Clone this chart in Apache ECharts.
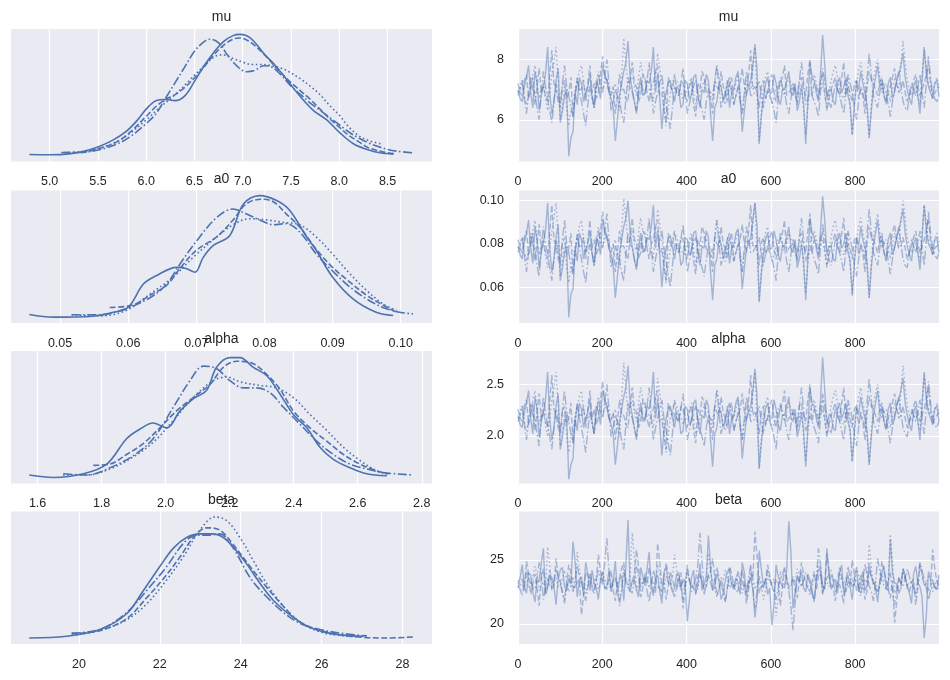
<!DOCTYPE html>
<html>
<head>
<meta charset="utf-8">
<script src="https://cdn.jsdelivr.net/npm/echarts@6/dist/echarts.min.js"></script>
<style>
html,body{margin:0;padding:0;background:#fff;}
#chart{width:950px;height:680px;}
</style>
</head>
<body>
<div id="chart"></div>
<script>
// ---------------- DATA ----------------
const paramNames = ['mu', 'a0', 'alpha', 'beta'];

// KDE curves (x, relative density) per chain
const muKde0 = [[4.79,0.003],[5.0,0.001],[5.2,0.008],[5.35,0.03],[5.5,0.066],[5.65,0.12],[5.8,0.2],[5.9,0.28],[6.0,0.38],[6.1,0.45],[6.2,0.46],[6.3,0.45],[6.4,0.49],[6.5,0.61],[6.6,0.74],[6.7,0.85],[6.8,0.94],[6.9,0.99],[6.97,1.0],[7.08,0.97],[7.22,0.84],[7.35,0.73],[7.49,0.59],[7.6,0.48],[7.73,0.37],[7.87,0.29],[8.01,0.18],[8.15,0.09],[8.29,0.044],[8.42,0.017],[8.56,0.006]];
const muKde1 = [[5.15,0.02],[5.3,0.02],[5.5,0.05],[5.7,0.11],[5.85,0.2],[6.0,0.32],[6.1,0.4],[6.2,0.46],[6.3,0.5],[6.4,0.56],[6.5,0.64],[6.6,0.73],[6.7,0.83],[6.8,0.91],[6.9,0.96],[6.97,0.97],[7.05,0.95],[7.15,0.89],[7.25,0.81],[7.35,0.72],[7.5,0.6],[7.6,0.53],[7.7,0.46],[7.8,0.38],[7.9,0.3],[8.0,0.23],[8.1,0.16],[8.2,0.11],[8.3,0.06],[8.45,0.025],[8.58,0.01]];
const muKde2 = [[5.2,0.02],[5.35,0.025],[5.5,0.05],[5.7,0.11],[5.85,0.19],[6.0,0.29],[6.15,0.4],[6.3,0.5],[6.45,0.62],[6.6,0.74],[6.72,0.82],[6.8,0.83],[6.9,0.8],[7.0,0.77],[7.1,0.75],[7.2,0.75],[7.3,0.74],[7.4,0.72],[7.5,0.68],[7.6,0.63],[7.7,0.57],[7.8,0.5],[7.9,0.41],[8.0,0.33],[8.1,0.23],[8.2,0.16],[8.3,0.12],[8.44,0.09]];
const muKde3 = [[5.12,0.02],[5.3,0.02],[5.5,0.04],[5.7,0.09],[5.85,0.16],[6.0,0.26],[6.1,0.34],[6.2,0.47],[6.3,0.6],[6.4,0.73],[6.5,0.86],[6.6,0.94],[6.66,0.96],[6.75,0.93],[6.85,0.82],[6.95,0.73],[7.04,0.69],[7.12,0.7],[7.22,0.74],[7.3,0.73],[7.4,0.66],[7.5,0.57],[7.6,0.5],[7.7,0.43],[7.8,0.37],[7.9,0.31],[8.0,0.25],[8.1,0.19],[8.2,0.14],[8.3,0.1],[8.4,0.07],[8.5,0.045],[8.6,0.03],[8.77,0.017]];

const a0Kde0 = [[0.0455,0.022],[0.049,0.0],[0.0548,0.008],[0.0578,0.04],[0.06,0.08],[0.0622,0.27],[0.0641,0.34],[0.0671,0.41],[0.0685,0.4],[0.0698,0.37],[0.071,0.49],[0.0725,0.59],[0.0749,0.67],[0.0769,0.93],[0.0793,1.0],[0.0818,0.96],[0.0837,0.88],[0.0862,0.66],[0.0876,0.55],[0.09,0.33],[0.093,0.15],[0.0964,0.04],[0.0989,0.014]];
const a0Kde1 = [[0.0573,0.08],[0.0607,0.1],[0.0632,0.18],[0.0656,0.26],[0.0676,0.4],[0.07,0.55],[0.073,0.66],[0.0754,0.8],[0.0773,0.93],[0.0795,0.97],[0.0813,0.95],[0.0832,0.85],[0.0852,0.74],[0.0876,0.56],[0.09,0.41],[0.0925,0.29],[0.095,0.18],[0.0974,0.1],[0.0994,0.04]];
const a0Kde2 = [[0.0517,0.02],[0.0558,0.01],[0.0597,0.055],[0.0632,0.19],[0.0666,0.33],[0.0695,0.49],[0.073,0.66],[0.0754,0.76],[0.0778,0.81],[0.0803,0.8],[0.0827,0.78],[0.0852,0.76],[0.0876,0.66],[0.09,0.52],[0.0925,0.36],[0.095,0.22],[0.0974,0.11],[0.0994,0.055]];
const a0Kde3 = [[0.0517,0.02],[0.0558,0.02],[0.0597,0.07],[0.0632,0.16],[0.0656,0.27],[0.068,0.47],[0.0705,0.66],[0.073,0.82],[0.0754,0.89],[0.0773,0.85],[0.0793,0.8],[0.0813,0.76],[0.0832,0.77],[0.0852,0.7],[0.0876,0.52],[0.09,0.38],[0.0925,0.25],[0.095,0.15],[0.0974,0.08],[0.0999,0.04],[0.1018,0.027]];

const alphaKde0 = [[1.574,0.02],[1.649,0.0],[1.743,0.03],[1.816,0.11],[1.878,0.32],[1.92,0.4],[1.961,0.45],[2.003,0.41],[2.045,0.55],[2.086,0.65],[2.128,0.72],[2.159,0.91],[2.201,0.99],[2.232,0.99],[2.274,0.91],[2.316,0.84],[2.357,0.69],[2.399,0.52],[2.441,0.41],[2.482,0.25],[2.524,0.15],[2.576,0.08],[2.628,0.03],[2.691,0.014]];
const alphaKde1 = [[1.774,0.1],[1.826,0.11],[1.878,0.19],[1.93,0.28],[1.982,0.41],[2.034,0.55],[2.086,0.66],[2.139,0.77],[2.18,0.91],[2.222,0.96],[2.274,0.94],[2.316,0.85],[2.357,0.73],[2.399,0.55],[2.451,0.41],[2.503,0.3],[2.555,0.19],[2.607,0.11],[2.659,0.055],[2.696,0.03]];
const alphaKde2 = [[1.68,0.02],[1.753,0.02],[1.826,0.07],[1.899,0.17],[1.961,0.29],[2.024,0.47],[2.086,0.66],[2.149,0.8],[2.191,0.83],[2.232,0.79],[2.295,0.76],[2.347,0.74],[2.399,0.66],[2.451,0.52],[2.503,0.39],[2.555,0.25],[2.607,0.14],[2.659,0.055],[2.691,0.03]];
const alphaKde3 = [[1.68,0.03],[1.753,0.02],[1.826,0.08],[1.899,0.18],[1.961,0.32],[2.024,0.58],[2.076,0.8],[2.118,0.92],[2.159,0.9],[2.201,0.8],[2.243,0.74],[2.284,0.74],[2.326,0.7],[2.368,0.58],[2.42,0.44],[2.472,0.3],[2.524,0.19],[2.576,0.11],[2.628,0.07],[2.68,0.04],[2.774,0.02]];

const betaKde0 = [[18.77,0.0],[19.69,0.014],[20.52,0.07],[21.18,0.2],[21.59,0.39],[22.0,0.59],[22.33,0.74],[22.66,0.83],[22.99,0.86],[23.32,0.86],[23.57,0.83],[23.82,0.75],[24.15,0.61],[24.48,0.45],[24.81,0.31],[25.22,0.19],[25.63,0.1],[26.05,0.05],[26.54,0.022],[27.04,0.014]];
const betaKde1 = [[19.82,0.036],[20.52,0.06],[21.18,0.16],[21.67,0.33],[22.09,0.49],[22.5,0.67],[22.83,0.83],[23.16,0.91],[23.49,0.89],[23.82,0.77],[24.23,0.59],[24.64,0.42],[25.06,0.26],[25.47,0.13],[25.96,0.063],[26.54,0.022],[27.12,0.003],[27.61,0.0],[28.27,0.008]];
const betaKde2 = [[19.82,0.022],[20.52,0.063],[21.18,0.15],[21.67,0.28],[22.17,0.48],[22.58,0.67],[22.99,0.89],[23.36,1.0],[23.65,0.97],[23.98,0.83],[24.31,0.64],[24.64,0.45],[25.06,0.26],[25.47,0.13],[25.96,0.05],[26.54,0.017],[26.87,0.01]];
const betaKde3 = [[19.82,0.04],[20.52,0.07],[21.18,0.21],[21.67,0.39],[22.17,0.59],[22.58,0.78],[22.91,0.85],[23.24,0.85],[23.49,0.86],[23.82,0.74],[24.23,0.5],[24.64,0.34],[25.06,0.21],[25.47,0.12],[25.96,0.07],[26.54,0.036],[27.12,0.017]];

// Trace values per chain (thinned reading of the right panels, draws 0..999).
// "...A" holds the even samples, "...B" the in-between samples.
const muTrace0A = [7.0,6.6,7.4,6.9,7.6,6.3,7.1,8.4,6.2,7.3,5.9,6.8,4.8,5.6,6.5,7.2,6.9,7.5,6.4,7.1,7.8,7.3,6.7,5.3,6.8,7.6,8.6,7.0,6.2,7.4,6.9,7.2,8.4,7.5,5.7,6.9,7.3,6.6,7.0,6.5,7.2,6.8,7.5,6.4,6.9,7.3,5.3,6.6,7.1,6.8,6.4,7.0,7.6,5.6,6.9,7.3,8.5,5.2,6.7,7.4,6.9,7.2,6.5,7.0,7.6,6.8,6.3,7.1,5.2,7.9,7.3,6.6,8.8,6.7,7.0,6.5,7.4,7.1,6.8,5.5,7.3,7.6,6.9,5.4,7.0,7.8,7.2,6.6,7.4,6.9,7.5,8.2,7.0,6.5,7.3,6.2,8.4,7.1,6.7,7.3];
const muTrace0B = [6.7,7.1,7.8,6.4,7.2,6.8,7.5,6.9,6.6,7.7,6.3,7.0,5.4,6.9,7.4,6.6,7.1,6.8,7.3,6.7,7.5,6.9,6.4,6.0,7.2,7.9,7.4,6.6,7.0,6.8,7.3,7.6,6.9,6.7,6.5,7.2,6.9,7.1,6.4,7.3,6.7,7.4,6.8,7.0,7.5,6.2,6.4,7.2,6.6,7.3,6.9,7.4,6.8,6.3,7.1,7.8,7.6,6.1,7.2,6.9,7.5,6.7,7.0,7.3,6.9,7.2,6.6,6.5,6.6,7.4,6.9,7.5,7.8,7.0,6.6,7.2,6.9,7.4,6.5,6.4,7.0,7.2,6.5,6.3,7.4,7.1,6.8,7.2,6.7,7.3,7.8,7.4,6.7,7.1,6.8,7.3,7.5,6.9,7.2,6.8];
const muTrace1A = [7.2,6.8,7.5,7.0,6.5,7.7,7.1,6.6,8.3,7.0,6.4,7.3,6.9,6.1,7.4,7.0,6.6,7.8,7.2,6.9,8.1,7.3,6.8,6.2,7.5,7.0,6.6,7.9,7.1,6.8,7.4,6.6,7.2,7.8,6.9,5.9,7.1,7.5,6.8,7.2,6.6,7.3,6.1,7.0,7.4,6.8,6.2,7.1,7.6,6.9,7.2,6.5,7.0,7.7,6.8,8.3,7.1,6.4,7.3,6.9,7.5,6.6,7.2,7.8,6.9,7.1,6.5,7.4,6.8,8.0,7.2,6.7,7.5,6.3,7.0,7.4,6.8,7.9,7.1,6.6,7.3,7.0,6.2,7.6,7.2,6.8,7.4,6.5,7.1,7.7,6.9,7.3,6.6,7.0,7.5,6.8,7.2,7.9,6.7,7.0];
const muTrace1B = [6.9,7.3,6.7,7.4,7.1,6.9,6.8,7.5,7.2,6.6,7.1,6.7,7.4,6.8,7.0,7.3,7.2,6.9,6.7,7.5,7.4,6.9,7.1,6.8,7.0,6.7,7.3,7.2,6.6,7.5,6.9,7.1,7.6,6.8,6.3,7.4,7.0,6.9,7.3,6.8,7.1,6.5,7.2,7.6,6.9,6.7,7.3,7.0,7.1,6.6,7.4,6.8,7.2,7.1,7.5,7.0,6.9,7.1,6.7,7.3,6.9,7.1,7.4,6.8,7.0,6.9,7.3,7.0,7.5,6.8,7.1,7.3,6.9,6.7,7.2,7.0,7.4,6.8,6.9,7.2,6.7,6.8,7.1,7.3,7.0,7.2,6.8,6.9,7.4,7.2,7.0,6.9,6.8,7.3,7.1,7.0,7.5,7.2,6.9,7.1];
const muTrace2A = [6.9,7.3,6.5,7.1,7.8,6.7,7.2,6.3,7.5,8.4,6.0,7.1,5.8,6.5,7.3,7.8,6.8,7.1,6.4,7.6,7.0,7.4,6.9,7.2,6.3,8.7,7.1,7.5,6.8,7.9,7.3,7.0,6.6,8.2,7.2,5.8,6.9,7.4,7.1,6.7,7.0,7.4,6.4,6.9,7.3,7.1,6.6,7.8,7.0,6.5,7.2,6.9,7.5,6.2,7.3,7.0,8.4,5.3,7.1,7.6,6.5,7.0,7.3,6.8,7.4,7.0,6.6,7.2,5.5,7.1,7.5,6.9,7.2,6.4,7.3,7.8,7.0,6.7,7.4,5.5,7.2,7.9,7.1,5.4,7.3,8.0,6.9,7.2,6.6,7.4,7.0,8.6,7.3,6.8,7.1,6.5,8.3,7.2,6.9,7.4];
const muTrace2B = [7.1,6.8,6.9,7.5,7.2,7.0,6.7,6.9,7.9,7.3,6.5,6.4,6.3,7.0,7.6,7.2,6.9,6.7,7.1,7.3,7.2,7.1,7.0,6.6,7.5,7.9,7.3,7.1,7.4,7.5,7.1,6.8,7.4,7.7,6.5,6.4,7.2,7.3,6.9,6.8,7.2,6.9,6.6,7.1,7.2,6.8,7.2,7.4,6.7,6.9,7.0,7.2,6.8,6.8,7.1,7.7,6.8,6.2,7.4,7.0,6.7,7.2,7.0,7.1,7.2,6.8,6.9,6.3,6.4,7.3,7.2,7.0,6.8,6.9,7.6,7.4,6.8,7.1,6.4,6.5,7.6,7.4,6.3,6.5,7.7,7.4,7.1,6.9,7.0,7.2,7.8,7.9,7.0,6.9,6.8,7.4,7.7,7.0,7.2,7.1];
const muTrace3A = [6.8,7.3,6.2,7.4,6.9,6.0,7.6,6.7,5.9,7.2,6.5,7.8,6.8,6.1,7.3,6.6,5.8,7.1,6.4,7.5,6.9,8.0,6.3,7.0,6.6,5.9,7.4,6.9,6.3,7.2,6.8,7.9,6.2,6.9,7.5,6.5,5.7,7.1,6.8,7.7,6.2,6.9,7.3,6.6,6.0,7.0,6.8,7.8,6.4,6.9,7.4,6.5,7.1,6.2,7.6,6.8,6.9,7.3,6.4,7.0,6.6,5.9,7.4,6.9,6.2,7.2,6.8,7.9,6.5,7.0,6.6,6.1,7.7,6.9,6.4,7.2,6.8,6.2,7.5,6.9,6.0,7.1,6.6,8.2,6.8,6.4,7.3,6.9,6.1,7.0,7.6,6.6,6.3,7.2,6.8,7.5,6.4,8.1,6.9,6.6];
const muTrace3B = [7.0,6.7,6.8,7.0,6.4,6.9,7.1,6.3,6.6,6.8,7.2,7.1,6.4,6.8,6.9,6.2,6.5,6.8,7.0,7.1,7.4,7.2,6.6,6.8,6.2,6.7,7.1,6.6,6.8,7.0,7.3,7.0,6.6,7.2,6.9,6.1,6.4,6.9,7.2,6.9,6.5,7.1,6.9,6.3,6.6,6.9,7.3,7.1,6.7,7.2,6.9,6.8,6.6,6.9,7.2,6.8,7.1,6.8,6.7,6.8,6.3,6.7,7.1,6.5,6.7,7.0,7.3,7.2,6.7,6.8,6.4,6.9,7.3,6.6,6.8,7.0,6.5,6.9,7.2,6.4,6.6,6.9,7.4,7.5,6.6,6.9,7.1,6.5,6.6,7.3,7.1,6.4,6.8,7.0,7.1,6.9,7.2,7.4,6.7,6.8];

const a0Trace0A = [0.079,0.073,0.085,0.078,0.088,0.069,0.081,0.099,0.067,0.083,0.063,0.076,0.046,0.059,0.072,0.082,0.078,0.086,0.070,0.080,0.091,0.083,0.075,0.055,0.076,0.088,0.100,0.079,0.068,0.085,0.077,0.082,0.098,0.086,0.060,0.078,0.084,0.073,0.079,0.072,0.082,0.076,0.086,0.070,0.078,0.083,0.054,0.073,0.080,0.076,0.071,0.079,0.087,0.059,0.078,0.083,0.099,0.053,0.075,0.085,0.078,0.082,0.072,0.079,0.088,0.076,0.069,0.080,0.054,0.092,0.083,0.073,0.102,0.075,0.079,0.072,0.085,0.080,0.076,0.056,0.083,0.088,0.078,0.055,0.079,0.091,0.082,0.073,0.085,0.078,0.086,0.096,0.079,0.072,0.083,0.068,0.098,0.080,0.075,0.083];
const a0Trace0B = [0.075,0.081,0.091,0.071,0.082,0.076,0.086,0.078,0.073,0.089,0.069,0.079,0.057,0.078,0.085,0.073,0.080,0.076,0.083,0.075,0.086,0.078,0.070,0.065,0.082,0.092,0.085,0.073,0.079,0.076,0.083,0.088,0.078,0.075,0.072,0.082,0.078,0.080,0.070,0.083,0.075,0.085,0.076,0.079,0.086,0.067,0.070,0.082,0.073,0.083,0.078,0.085,0.076,0.069,0.080,0.091,0.088,0.066,0.082,0.078,0.086,0.075,0.079,0.083,0.078,0.082,0.073,0.072,0.073,0.085,0.078,0.086,0.091,0.079,0.073,0.082,0.078,0.085,0.072,0.070,0.079,0.082,0.072,0.069,0.085,0.080,0.076,0.082,0.075,0.083,0.091,0.085,0.075,0.080,0.076,0.083,0.086,0.078,0.082,0.076];
const a0Trace1A = [0.082,0.076,0.086,0.079,0.072,0.089,0.080,0.073,0.098,0.079,0.070,0.083,0.078,0.066,0.085,0.079,0.073,0.091,0.082,0.078,0.095,0.083,0.076,0.067,0.086,0.079,0.073,0.092,0.080,0.076,0.085,0.073,0.082,0.091,0.078,0.063,0.080,0.086,0.076,0.082,0.073,0.083,0.066,0.079,0.085,0.076,0.067,0.080,0.088,0.078,0.082,0.072,0.079,0.089,0.076,0.098,0.080,0.070,0.083,0.078,0.086,0.073,0.082,0.091,0.078,0.080,0.072,0.085,0.076,0.094,0.082,0.075,0.086,0.069,0.079,0.085,0.076,0.092,0.080,0.073,0.083,0.079,0.067,0.088,0.082,0.076,0.085,0.072,0.080,0.089,0.078,0.083,0.073,0.079,0.086,0.076,0.082,0.092,0.075,0.079];
const a0Trace1B = [0.078,0.083,0.075,0.085,0.080,0.078,0.076,0.086,0.082,0.073,0.080,0.075,0.085,0.076,0.079,0.083,0.082,0.078,0.075,0.086,0.085,0.078,0.080,0.076,0.079,0.075,0.083,0.082,0.073,0.086,0.078,0.080,0.088,0.076,0.069,0.085,0.079,0.078,0.083,0.076,0.080,0.072,0.082,0.088,0.078,0.075,0.083,0.079,0.080,0.073,0.085,0.076,0.082,0.080,0.086,0.079,0.078,0.080,0.075,0.083,0.078,0.080,0.085,0.076,0.079,0.078,0.083,0.079,0.086,0.076,0.080,0.083,0.078,0.075,0.082,0.079,0.085,0.076,0.078,0.082,0.075,0.076,0.080,0.083,0.079,0.082,0.076,0.078,0.085,0.082,0.079,0.078,0.076,0.083,0.080,0.079,0.086,0.082,0.078,0.080];
const a0Trace2A = [0.078,0.083,0.072,0.080,0.091,0.075,0.082,0.069,0.086,0.099,0.065,0.080,0.062,0.072,0.083,0.091,0.076,0.080,0.070,0.088,0.079,0.085,0.078,0.082,0.069,0.101,0.080,0.086,0.076,0.092,0.083,0.079,0.073,0.096,0.082,0.062,0.078,0.085,0.080,0.075,0.079,0.085,0.070,0.078,0.083,0.080,0.073,0.091,0.079,0.072,0.082,0.078,0.086,0.067,0.083,0.079,0.099,0.054,0.080,0.088,0.072,0.079,0.083,0.076,0.085,0.079,0.073,0.082,0.057,0.080,0.086,0.078,0.082,0.070,0.083,0.091,0.079,0.075,0.085,0.057,0.082,0.092,0.080,0.055,0.083,0.094,0.078,0.082,0.073,0.085,0.079,0.100,0.083,0.076,0.080,0.072,0.098,0.082,0.078,0.085];
const a0Trace2B = [0.080,0.076,0.078,0.086,0.082,0.079,0.075,0.078,0.092,0.083,0.072,0.070,0.069,0.079,0.088,0.082,0.078,0.075,0.080,0.083,0.082,0.080,0.079,0.073,0.086,0.092,0.083,0.080,0.085,0.086,0.080,0.076,0.085,0.089,0.072,0.070,0.082,0.083,0.078,0.076,0.082,0.078,0.073,0.080,0.082,0.076,0.082,0.085,0.075,0.078,0.079,0.082,0.076,0.076,0.080,0.089,0.076,0.067,0.085,0.079,0.075,0.082,0.079,0.080,0.082,0.076,0.078,0.069,0.070,0.083,0.082,0.079,0.076,0.078,0.088,0.085,0.076,0.080,0.070,0.072,0.088,0.085,0.069,0.072,0.089,0.085,0.080,0.078,0.079,0.082,0.091,0.092,0.079,0.078,0.076,0.085,0.089,0.079,0.082,0.080];
const a0Trace3A = [0.076,0.083,0.067,0.085,0.078,0.065,0.088,0.075,0.063,0.082,0.072,0.091,0.076,0.066,0.083,0.073,0.062,0.080,0.070,0.086,0.078,0.094,0.069,0.079,0.073,0.063,0.085,0.078,0.069,0.082,0.076,0.092,0.067,0.078,0.086,0.072,0.060,0.080,0.076,0.089,0.067,0.078,0.083,0.073,0.065,0.079,0.076,0.091,0.070,0.078,0.085,0.072,0.080,0.067,0.088,0.076,0.078,0.083,0.070,0.079,0.073,0.063,0.085,0.078,0.067,0.082,0.076,0.092,0.072,0.079,0.073,0.066,0.089,0.078,0.070,0.082,0.076,0.067,0.086,0.078,0.065,0.080,0.073,0.096,0.076,0.070,0.083,0.078,0.066,0.079,0.088,0.073,0.069,0.082,0.076,0.086,0.070,0.095,0.078,0.073];
const a0Trace3B = [0.079,0.075,0.076,0.079,0.070,0.078,0.080,0.069,0.073,0.076,0.082,0.080,0.070,0.076,0.078,0.067,0.072,0.076,0.079,0.080,0.085,0.082,0.073,0.076,0.067,0.075,0.080,0.073,0.076,0.079,0.083,0.079,0.073,0.082,0.078,0.066,0.070,0.078,0.082,0.078,0.072,0.080,0.078,0.069,0.073,0.078,0.083,0.080,0.075,0.082,0.078,0.076,0.073,0.078,0.082,0.076,0.080,0.076,0.075,0.076,0.069,0.075,0.080,0.072,0.075,0.079,0.083,0.082,0.075,0.076,0.070,0.078,0.083,0.073,0.076,0.079,0.072,0.078,0.082,0.070,0.073,0.078,0.085,0.086,0.073,0.078,0.080,0.072,0.073,0.083,0.080,0.070,0.076,0.079,0.080,0.078,0.082,0.085,0.075,0.076];

const alphaTrace0A = [2.20,2.08,2.32,2.17,2.38,1.99,2.23,2.62,1.96,2.29,1.87,2.14,1.58,1.78,2.05,2.26,2.17,2.35,2.02,2.23,2.44,2.29,2.11,1.72,2.14,2.38,2.68,2.20,1.96,2.32,2.17,2.26,2.62,2.35,1.81,2.17,2.29,2.08,2.20,2.05,2.26,2.14,2.35,2.02,2.17,2.29,1.70,2.08,2.23,2.14,2.02,2.20,2.38,1.78,2.17,2.29,2.65,1.68,2.11,2.32,2.17,2.26,2.05,2.20,2.38,2.14,1.99,2.23,1.70,2.47,2.29,2.08,2.76,2.11,2.20,2.05,2.32,2.23,2.14,1.75,2.29,2.38,2.17,1.72,2.20,2.44,2.26,2.08,2.32,2.17,2.35,2.56,2.20,2.05,2.29,1.96,2.62,2.23,2.11,2.29];
const alphaTrace0B = [2.11,2.23,2.44,2.02,2.26,2.14,2.35,2.17,2.08,2.41,1.99,2.20,1.72,2.17,2.32,2.08,2.23,2.14,2.29,2.11,2.35,2.17,2.02,1.90,2.26,2.47,2.32,2.08,2.20,2.14,2.29,2.38,2.17,2.11,2.05,2.26,2.17,2.23,2.02,2.29,2.11,2.32,2.14,2.20,2.35,1.96,2.02,2.26,2.08,2.29,2.17,2.32,2.14,1.99,2.23,2.44,2.38,1.93,2.26,2.17,2.35,2.11,2.20,2.29,2.17,2.26,2.08,2.05,2.08,2.32,2.17,2.35,2.44,2.20,2.08,2.26,2.17,2.32,2.05,2.02,2.20,2.26,2.05,1.99,2.32,2.23,2.14,2.26,2.11,2.29,2.44,2.32,2.11,2.23,2.14,2.29,2.35,2.17,2.26,2.14];
const alphaTrace1A = [2.26,2.14,2.35,2.20,2.05,2.41,2.23,2.08,2.59,2.20,2.02,2.29,2.17,1.93,2.32,2.20,2.08,2.44,2.26,2.17,2.53,2.29,2.14,1.96,2.35,2.20,2.08,2.47,2.23,2.14,2.32,2.08,2.26,2.44,2.17,1.87,2.23,2.35,2.14,2.26,2.08,2.29,1.93,2.20,2.32,2.14,1.96,2.23,2.38,2.17,2.26,2.05,2.20,2.41,2.14,2.59,2.23,2.02,2.29,2.17,2.35,2.08,2.26,2.44,2.17,2.23,2.05,2.32,2.14,2.50,2.26,2.11,2.35,1.99,2.20,2.32,2.14,2.47,2.23,2.08,2.29,2.20,1.96,2.38,2.26,2.14,2.32,2.05,2.23,2.41,2.17,2.29,2.08,2.20,2.35,2.14,2.26,2.47,2.11,2.20];
const alphaTrace1B = [2.17,2.29,2.11,2.32,2.23,2.17,2.14,2.35,2.26,2.08,2.23,2.11,2.32,2.14,2.20,2.29,2.26,2.17,2.11,2.35,2.32,2.17,2.23,2.14,2.20,2.11,2.29,2.26,2.08,2.35,2.17,2.23,2.38,2.14,1.99,2.32,2.20,2.17,2.29,2.14,2.23,2.05,2.26,2.38,2.17,2.11,2.29,2.20,2.23,2.08,2.32,2.14,2.26,2.23,2.35,2.20,2.17,2.23,2.11,2.29,2.17,2.23,2.32,2.14,2.20,2.17,2.29,2.20,2.35,2.14,2.23,2.29,2.17,2.11,2.26,2.20,2.32,2.14,2.17,2.26,2.11,2.14,2.23,2.29,2.20,2.26,2.14,2.17,2.32,2.26,2.20,2.17,2.14,2.29,2.23,2.20,2.35,2.26,2.17,2.23];
const alphaTrace2A = [2.17,2.29,2.05,2.23,2.44,2.11,2.26,1.99,2.35,2.62,1.90,2.23,1.84,2.05,2.29,2.44,2.14,2.23,2.02,2.38,2.20,2.32,2.17,2.26,1.99,2.71,2.23,2.35,2.14,2.47,2.29,2.20,2.08,2.56,2.26,1.84,2.17,2.32,2.23,2.11,2.20,2.32,2.02,2.17,2.29,2.23,2.08,2.44,2.20,2.05,2.26,2.17,2.35,1.96,2.29,2.20,2.62,1.69,2.23,2.38,2.05,2.20,2.29,2.14,2.32,2.20,2.08,2.26,1.75,2.23,2.35,2.17,2.26,2.02,2.29,2.44,2.20,2.11,2.32,1.75,2.26,2.47,2.23,1.72,2.29,2.50,2.17,2.26,2.08,2.32,2.20,2.68,2.29,2.14,2.23,2.05,2.59,2.26,2.17,2.32];
const alphaTrace2B = [2.23,2.14,2.17,2.35,2.26,2.20,2.11,2.17,2.47,2.29,2.05,2.02,1.99,2.20,2.38,2.26,2.17,2.11,2.23,2.29,2.26,2.23,2.20,2.08,2.35,2.47,2.29,2.23,2.32,2.35,2.23,2.14,2.32,2.41,2.05,2.02,2.26,2.29,2.17,2.14,2.26,2.17,2.08,2.23,2.26,2.14,2.26,2.32,2.11,2.17,2.20,2.26,2.14,2.14,2.23,2.41,2.14,1.96,2.32,2.20,2.11,2.26,2.20,2.23,2.26,2.14,2.17,1.99,2.02,2.29,2.26,2.20,2.14,2.17,2.38,2.32,2.14,2.23,2.02,2.05,2.38,2.32,1.99,2.05,2.41,2.32,2.23,2.17,2.20,2.26,2.44,2.47,2.20,2.17,2.14,2.32,2.41,2.20,2.26,2.23];
const alphaTrace3A = [2.14,2.29,1.96,2.32,2.17,1.90,2.38,2.11,1.87,2.26,2.05,2.44,2.14,1.93,2.29,2.08,1.84,2.23,2.02,2.35,2.17,2.50,1.99,2.20,2.08,1.87,2.32,2.17,1.99,2.26,2.14,2.47,1.96,2.17,2.35,2.05,1.81,2.23,2.14,2.41,1.96,2.17,2.29,2.08,1.90,2.20,2.14,2.44,2.02,2.17,2.32,2.05,2.23,1.96,2.38,2.14,2.17,2.29,2.02,2.20,2.08,1.87,2.32,2.17,1.96,2.26,2.14,2.47,2.05,2.20,2.08,1.93,2.41,2.17,2.02,2.26,2.14,1.96,2.35,2.17,1.90,2.23,2.08,2.56,2.14,2.02,2.29,2.17,1.93,2.20,2.38,2.08,1.99,2.26,2.14,2.35,2.02,2.53,2.17,2.08];
const alphaTrace3B = [2.20,2.11,2.14,2.20,2.02,2.17,2.23,1.99,2.08,2.14,2.26,2.23,2.02,2.14,2.17,1.96,2.05,2.14,2.20,2.23,2.32,2.26,2.08,2.14,1.96,2.11,2.23,2.08,2.14,2.20,2.29,2.20,2.08,2.26,2.17,1.93,2.02,2.17,2.26,2.17,2.05,2.23,2.17,1.99,2.08,2.17,2.29,2.23,2.11,2.26,2.17,2.14,2.08,2.17,2.26,2.14,2.23,2.14,2.11,2.14,1.99,2.11,2.23,2.05,2.11,2.20,2.29,2.26,2.11,2.14,2.02,2.17,2.29,2.08,2.14,2.20,2.05,2.17,2.26,2.02,2.08,2.17,2.32,2.35,2.08,2.17,2.23,2.05,2.08,2.29,2.23,2.02,2.14,2.20,2.23,2.17,2.26,2.32,2.11,2.14];

const betaTrace0A = [23.1,24.6,22.4,23.8,21.7,23.3,25.9,22.8,23.6,21.5,24.2,22.9,23.5,26.4,22.1,23.7,24.8,22.6,23.2,21.9,24.1,23.0,22.5,24.9,23.4,21.8,28.1,23.3,22.7,24.4,23.0,25.6,22.2,23.8,21.6,24.5,23.1,22.8,24.0,23.5,20.2,23.6,22.4,24.7,23.1,26.9,22.6,23.9,21.9,23.4,24.3,22.7,23.2,24.8,22.1,23.6,20.5,25.7,23.0,22.3,19.9,24.6,23.3,22.8,28.0,21.2,23.7,24.1,22.5,23.4,21.8,24.2,23.0,25.9,22.7,23.5,24.0,22.2,23.8,21.9,24.4,23.1,22.6,24.7,23.3,21.7,23.9,22.8,26.6,23.2,22.4,24.3,23.0,21.6,24.5,22.9,18.9,24.1,23.4,22.7];
const betaTrace0B = [23.6,22.9,24.0,22.5,23.4,24.7,22.3,23.8,22.9,23.5,24.4,22.6,23.1,24.9,23.3,22.2,23.9,24.2,22.8,23.5,22.7,24.1,23.3,22.4,23.8,24.6,22.9,23.4,22.1,23.7,24.3,22.8,23.5,22.6,24.0,23.2,22.5,23.9,22.7,23.4,21.8,24.2,23.0,22.6,23.7,24.5,22.9,23.3,22.4,24.1,23.0,23.6,22.3,24.0,23.2,22.7,21.9,24.3,23.5,22.8,21.4,23.7,22.9,24.2,25.6,22.5,23.3,22.8,23.9,22.6,23.5,24.4,22.7,23.8,23.1,22.4,24.6,23.2,22.9,23.6,22.5,24.1,23.0,23.7,22.8,23.3,24.5,22.6,24.0,23.1,22.8,23.6,22.4,23.9,23.2,22.1,20.6,23.5,22.9,23.8];
const betaTrace1A = [22.8,23.5,24.9,22.3,23.9,21.4,24.3,23.0,22.6,25.1,23.4,21.9,24.6,22.8,23.2,20.7,24.0,23.5,22.4,25.4,23.1,22.7,24.2,21.8,23.6,24.8,22.9,23.3,25.8,22.1,23.7,24.4,22.5,26.3,23.0,21.9,24.1,22.8,23.5,21.2,24.6,23.1,22.3,24.0,22.7,23.8,25.1,22.2,23.4,21.7,24.5,23.0,22.6,24.2,21.6,23.9,27.2,22.4,23.1,24.6,22.8,23.5,21.4,24.3,22.9,23.6,22.0,24.8,23.2,22.5,24.1,23.7,22.3,25.5,23.0,21.8,24.4,22.7,23.3,25.0,22.6,23.8,21.9,24.2,23.1,22.4,24.9,23.5,22.0,20.1,23.6,24.3,22.8,23.2,21.5,24.7,23.0,22.6,25.8,23.3];
const betaTrace1B = [23.3,22.6,23.9,23.1,22.8,23.6,22.4,24.2,23.0,23.7,22.5,23.3,24.0,22.9,23.5,22.2,23.8,22.7,23.4,24.1,22.9,23.5,22.6,23.2,24.3,23.0,22.5,23.9,24.4,22.8,23.1,23.6,22.4,24.8,23.3,22.9,23.5,22.7,24.0,22.6,23.4,22.8,23.7,23.2,22.9,24.1,23.6,22.7,23.0,22.8,23.9,22.5,23.4,23.1,22.7,23.5,25.3,22.9,23.3,23.8,22.6,23.2,22.9,23.6,23.0,22.7,23.4,23.9,22.8,23.3,22.6,24.0,23.1,24.2,22.9,23.3,23.7,22.5,23.0,23.8,22.9,23.4,22.6,23.7,22.8,23.2,24.1,22.7,23.4,21.7,23.1,23.8,22.5,23.5,22.8,23.9,23.2,22.9,24.3,23.0];
const betaTrace2A = [23.4,22.9,23.8,23.1,24.5,22.6,23.3,26.0,22.8,23.6,23.0,24.2,22.5,23.7,25.6,23.1,22.4,23.9,23.4,22.7,24.1,23.2,22.9,23.6,21.8,24.4,23.0,27.1,22.6,23.5,24.0,22.8,23.3,24.6,22.2,23.7,23.1,25.4,22.9,23.4,24.0,22.5,23.2,23.8,22.7,25.5,23.3,22.1,23.6,24.2,22.8,23.4,23.9,22.4,23.1,24.5,22.7,23.5,21.9,23.8,23.2,20.6,24.1,23.0,22.6,23.7,24.3,22.9,23.4,22.2,23.9,24.8,22.7,23.3,23.8,22.5,24.0,23.1,22.8,23.6,24.4,22.3,23.5,26.2,23.0,22.6,23.9,23.2,27.0,22.4,23.6,24.1,22.9,23.3,22.1,24.6,23.0,23.7,22.5,23.4];
const betaTrace2B = [23.1,23.5,22.8,23.6,23.9,23.0,22.7,24.6,23.2,22.9,23.5,23.4,23.0,22.8,24.3,23.3,23.0,22.7,23.6,23.1,23.4,22.9,23.5,23.2,22.6,23.6,23.8,25.2,23.1,23.0,23.5,23.3,22.8,23.9,22.9,23.3,23.6,24.2,23.0,22.8,23.5,23.1,22.7,23.4,23.2,24.0,22.9,22.8,23.4,23.6,23.1,22.9,23.5,23.0,22.8,23.7,23.2,23.0,22.6,23.3,23.5,22.2,23.4,23.3,22.9,23.2,23.8,23.4,23.0,22.8,23.5,23.6,23.1,22.9,23.4,23.0,23.3,23.6,23.1,22.9,23.7,22.9,23.2,24.4,23.4,22.9,23.3,23.5,24.8,22.9,23.2,23.5,23.3,22.8,22.9,23.7,23.2,23.4,23.0,23.1];
const betaTrace3A = [23.0,22.2,24.1,23.4,22.7,24.8,21.9,23.5,22.9,24.3,23.1,21.6,23.8,22.5,24.6,23.2,21.8,23.9,22.6,24.2,23.3,26.7,22.8,23.6,21.4,24.0,23.1,22.4,24.5,22.9,23.7,21.7,24.2,23.0,22.6,24.7,23.4,22.1,23.8,21.9,24.3,22.8,23.5,27.1,22.3,23.9,22.7,24.4,23.1,21.8,23.6,22.9,24.1,23.3,22.5,24.6,21.2,23.7,22.8,24.2,23.0,21.9,23.5,24.4,22.6,19.5,23.8,22.9,24.0,23.2,21.7,25.9,22.4,23.6,24.2,22.8,23.1,21.6,24.5,22.9,23.4,22.2,24.7,23.0,21.8,25.1,23.3,22.7,24.0,21.5,23.6,22.9,24.3,23.1,22.4,24.8,23.5,21.9,23.2,22.6];
const betaTrace3B = [22.7,23.3,23.5,22.8,23.6,23.9,22.8,22.9,23.4,23.6,22.4,22.9,23.1,23.4,23.7,22.5,22.9,23.2,23.4,23.5,24.8,24.1,23.2,22.7,22.8,23.4,22.6,23.5,23.6,23.3,22.6,23.0,23.5,22.7,23.7,23.9,22.6,23.0,22.8,23.2,23.4,23.1,24.6,24.9,23.0,23.2,23.5,23.6,22.5,22.9,23.2,23.4,23.5,22.8,23.6,22.9,22.5,23.2,23.4,23.5,22.5,22.8,23.8,23.5,21.3,21.7,23.3,23.4,23.6,22.4,23.3,24.6,23.0,23.8,23.4,22.9,22.4,23.1,23.6,23.1,22.8,23.4,23.8,22.5,23.4,24.1,23.0,23.3,22.7,22.6,23.2,23.6,23.7,22.8,23.5,24.2,22.8,22.6,22.9,23.0];

// Tick values
const kdeTicksMu = [5.0,5.5,6.0,6.5,7.0,7.5,8.0,8.5];
const kdeTicksA0 = [0.05,0.06,0.07,0.08,0.09,0.10];
const kdeTicksAlpha = [1.6,1.8,2.0,2.2,2.4,2.6,2.8];
const kdeTicksBeta = [20,22,24,26,28];
const drawTicks = [0,200,400,600,800];
const traceTicksMu = [6,8];
const traceTicksA0 = [0.06,0.08,0.10];
const traceTicksAlpha = [2.0,2.5];
const traceTicksBeta = [20,25];

// ---------------- LAYOUT / STYLE ----------------
const COLOR = '#4C72B0';
const BG = '#EAEAF2';
const TXT = '#262626';
const FONT = 'Liberation Sans, Arial, sans-serif';
const rowTop = [29, 190.5, 351, 511.5];
const rowH = 132.5;
const leftX = 11, rightX = 518, panelW = 421;
const dashStyles = ['solid', [6, 2.5], [1.6, 2.6], [9, 2.5, 1.6, 2.5]];

const kdeData = [
  [muKde0, muKde1, muKde2, muKde3],
  [a0Kde0, a0Kde1, a0Kde2, a0Kde3],
  [alphaKde0, alphaKde1, alphaKde2, alphaKde3],
  [betaKde0, betaKde1, betaKde2, betaKde3]
];
const traceData = [
  [[muTrace0A, muTrace0B], [muTrace1A, muTrace1B], [muTrace2A, muTrace2B], [muTrace3A, muTrace3B]],
  [[a0Trace0A, a0Trace0B], [a0Trace1A, a0Trace1B], [a0Trace2A, a0Trace2B], [a0Trace3A, a0Trace3B]],
  [[alphaTrace0A, alphaTrace0B], [alphaTrace1A, alphaTrace1B], [alphaTrace2A, alphaTrace2B], [alphaTrace3A, alphaTrace3B]],
  [[betaTrace0A, betaTrace0B], [betaTrace1A, betaTrace1B], [betaTrace2A, betaTrace2B], [betaTrace3A, betaTrace3B]]
];
const kdeXRange = [[4.60, 8.96], [0.0428, 0.1046], [1.517, 2.832], [18.32, 28.73]];
const kdeYRange = [[-0.055, 1.045], [-0.048, 1.042], [-0.05, 1.045], [-0.05, 1.045]];
const traceYRange = [[4.62, 9.0], [0.0434, 0.1047], [1.538, 2.824], [18.43, 28.77]];
const kdeTicks = [kdeTicksMu, kdeTicksA0, kdeTicksAlpha, kdeTicksBeta];
const traceTicks = [traceTicksMu, traceTicksA0, traceTicksAlpha, traceTicksBeta];
const kdeFmt = [1, 2, 1, 0];
const traceFmt = [0, 2, 1, 0];

function interleave(a, b) {
  const out = [];
  for (let i = 0; i < a.length; i++) {
    out.push(a[i]);
    if (i < b.length) out.push(b[i]);
  }
  return out;
}

const grids = [], xAxes = [], yAxes = [], series = [], titles = [];
const labelStyle = (dec, extra) => Object.assign({
  color: TXT, fontSize: 12.5, fontFamily: FONT,
  formatter: v => Number(v).toFixed(dec)
}, extra || {});

for (let r = 0; r < 4; r++) {
  grids[r] = { left: leftX, top: rowTop[r], width: panelW, height: rowH, show: true, backgroundColor: BG, borderWidth: 0 };
  grids[4 + r] = { left: rightX, top: rowTop[r], width: panelW, height: rowH, show: true, backgroundColor: BG, borderWidth: 0 };

  xAxes[r] = {
    type: 'value', gridIndex: r, min: kdeXRange[r][0], max: kdeXRange[r][1],
    axisLine: { show: false }, axisTick: { show: false, customValues: kdeTicks[r] },
    axisLabel: labelStyle(kdeFmt[r], { customValues: kdeTicks[r], margin: 14 }),
    splitLine: { show: true, lineStyle: { color: '#ffffff', width: 1.2 } }
  };
  yAxes[r] = {
    type: 'value', gridIndex: r, min: kdeYRange[r][0], max: kdeYRange[r][1],
    axisLine: { show: false }, axisTick: { show: false }, axisLabel: { show: false },
    splitLine: { show: false }
  };
  xAxes[4 + r] = {
    type: 'value', gridIndex: 4 + r, min: 0, max: 999,
    axisLine: { show: false }, axisTick: { show: false, customValues: drawTicks },
    axisLabel: labelStyle(0, { customValues: drawTicks, margin: 14 }),
    splitLine: { show: true, lineStyle: { color: '#ffffff', width: 1.2 } }
  };
  yAxes[4 + r] = {
    type: 'value', gridIndex: 4 + r, min: traceYRange[r][0], max: traceYRange[r][1],
    axisLine: { show: false }, axisTick: { show: false, customValues: traceTicks[r] },
    axisLabel: labelStyle(traceFmt[r], { customValues: traceTicks[r], margin: 14 }),
    splitLine: { show: true, lineStyle: { color: '#ffffff', width: 1.2 } }
  };

  const titleTop = rowTop[r] - 18.5;
  titles.push({ text: paramNames[r], left: leftX + panelW / 2, top: titleTop, textAlign: 'center', padding: 0,
    textStyle: { fontSize: 14, fontWeight: 'normal', color: TXT, fontFamily: FONT } });
  titles.push({ text: paramNames[r], left: rightX + panelW / 2, top: titleTop, textAlign: 'center', padding: 0,
    textStyle: { fontSize: 14, fontWeight: 'normal', color: TXT, fontFamily: FONT } });

  for (let c = 0; c < 4; c++) {
    const vals = interleave(traceData[r][c][0], traceData[r][c][1]);
    const n = vals.length;
    series.push({
      type: 'line', xAxisIndex: 4 + r, yAxisIndex: 4 + r, showSymbol: false, symbol: 'none',
      silent: true, z: 2,
      data: vals.map((v, i) => [i * 999 / (n - 1), v]),
      lineStyle: { color: COLOR, width: 1.4, opacity: 0.45, type: dashStyles[c] }
    });
    series.push({
      type: 'line', xAxisIndex: r, yAxisIndex: r, showSymbol: false, symbol: 'none',
      silent: true, smooth: 0.35, z: 3,
      data: kdeData[r][c],
      lineStyle: { color: COLOR, width: 1.6, type: dashStyles[c] }
    });
  }
}

const chart = echarts.init(document.getElementById('chart'), null, { renderer: 'canvas' });
chart.setOption({
  animation: false,
  backgroundColor: '#ffffff',
  title: titles,
  grid: grids,
  xAxis: xAxes,
  yAxis: yAxes,
  series: series
});
</script>
</body>
</html>
